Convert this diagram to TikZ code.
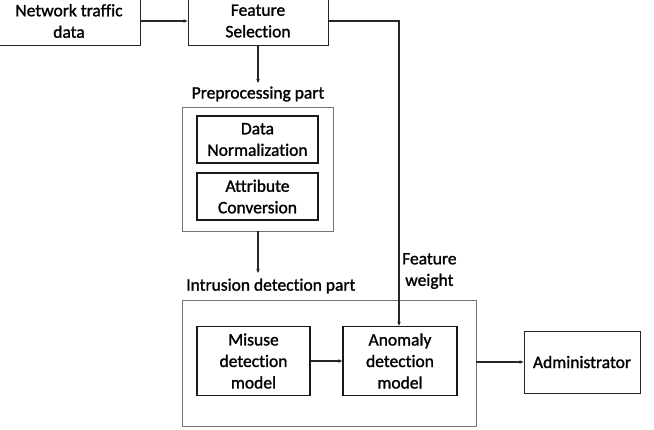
\documentclass[tikz,border=0pt]{standalone}
\usepackage{fontspec}
\setmainfont{Carlito}[FakeBold=1.3,RawFeature={-liga,-dlig,-clig}]
\usetikzlibrary{arrows.meta}
\begin{document}
\begin{tikzpicture}[x=1pt,y=-1pt,
  box/.style={draw=black!85,line width=0.9pt,fill=white,align=center,inner sep=0pt,font=\fontsize{17.5}{21.5}\selectfont},
  inbox/.style={draw=black!90,line width=1.6pt,align=center,inner sep=0pt,font=\fontsize{17.5}{21.5}\selectfont},
  outer/.style={draw=black!55,line width=0.8pt,inner sep=0pt},
  lbl/.style={font=\fontsize{17.5}{21.5}\selectfont,align=center,inner sep=0pt},
  conn/.style={draw=black!85,line width=1.3pt,-{Stealth[length=4pt,width=3.5pt]}}]
\useasboundingbox (0,0) rectangle (654,429);
\node[box,minimum width=143pt,minimum height=48pt] (ntd) at (69,21) {Network traffic\\data};
\node[box,minimum width=140pt,minimum height=48pt] (fs) at (258,21) {Feature\\Selection};
\node[lbl] (pplab) at (258,94) {Preprocessing part};
\node[outer,minimum width=151pt,minimum height=124pt] (pp) at (258,169) {};
\node[inbox,minimum width=121pt,minimum height=47pt] (dn) at (257.5,139.5) {Data\\Normalization};
\node[inbox,minimum width=121pt,minimum height=47pt] (ac) at (257.5,196.5) {Attribute\\Conversion};
\node[lbl,anchor=west] (idlab) at (186,286) {Intrusion detection part};
\node[outer,minimum width=294pt,minimum height=126pt] (id) at (329,363) {};
\node[inbox,minimum width=113pt,minimum height=69pt] (mis) at (253.5,361) {Misuse\\detection\\model};
\node[inbox,minimum width=114pt,minimum height=69pt] (ano) at (400,361) {Anomaly\\detection\\model};
\node[box,minimum width=116pt,minimum height=62pt] (adm) at (582,362) {Administrator};
\node[lbl,anchor=west] (fw) at (402,271) {Feature\\weight};
\coordinate (corner) at (399,21);
\coordinate (ppin) at (258,83);
\coordinate (idin) at (258,273);
\draw[conn] (ntd.east) -- (fs.west);
\draw[conn] (fs.south) -- (ppin);
\draw[conn] (pp.south) -- (idin);
\draw[conn] (fs.east) -- (corner) -- (ano.north -| corner);
\draw[conn] (mis.east) -- (ano.west);
\draw[conn] (id.east |- adm.west) -- (adm.west);
\end{tikzpicture}
\end{document}
